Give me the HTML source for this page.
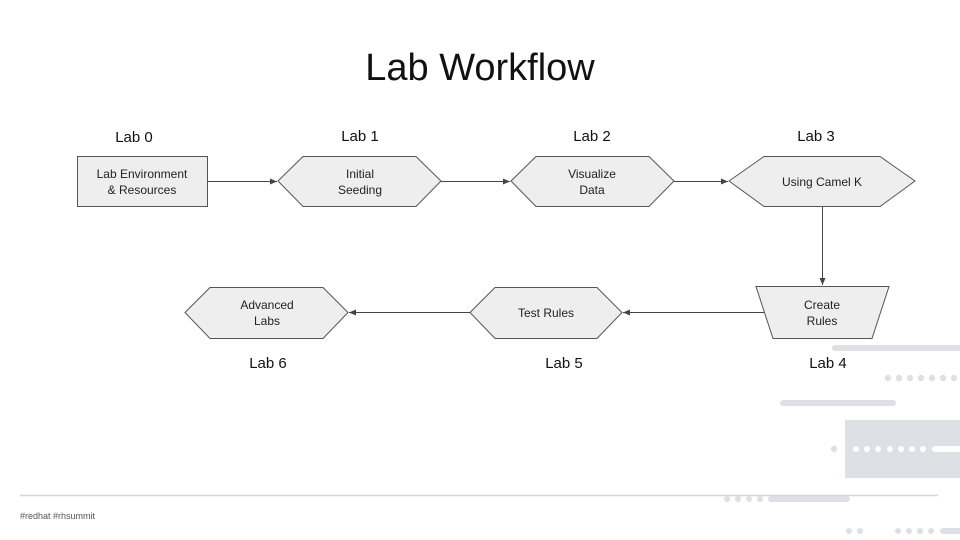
<!DOCTYPE html>
<html><head><meta charset="utf-8"><style>
html,body{margin:0;padding:0;background:#fff;width:960px;height:540px;overflow:hidden}
</style></head><body>
<svg width="960" height="540" viewBox="0 0 960 540" xmlns="http://www.w3.org/2000/svg" font-family="Liberation Sans, sans-serif">
<defs><marker id="a" markerWidth="8" markerHeight="8" refX="7" refY="4" orient="auto" markerUnits="userSpaceOnUse"><path d="M0,1 L7,4 L0,7 Z" fill="#444"/></marker></defs>
<!-- decorations -->
<g fill="#dde0e4">
<rect x="832" y="345" width="140" height="6" rx="3"/>
<g><circle cx="888" cy="378" r="3.2"/><circle cx="899" cy="378" r="3.2"/><circle cx="910" cy="378" r="3.2"/><circle cx="921" cy="378" r="3.2"/><circle cx="932" cy="378" r="3.2"/><circle cx="943" cy="378" r="3.2"/><circle cx="954" cy="378" r="3.2"/></g>
<rect x="780" y="400" width="116" height="6" rx="3"/>
<rect x="845" y="420" width="120" height="58"/>
<circle cx="834" cy="449" r="3.2"/>
<rect x="768" y="496" width="82" height="6" rx="3"/>
<circle cx="727" cy="499" r="3"/><circle cx="738" cy="499" r="3"/><circle cx="749" cy="499" r="3"/><circle cx="760" cy="499" r="3"/>
<circle cx="849" cy="531" r="3"/><circle cx="860" cy="531" r="3"/>
<circle cx="898" cy="531" r="3"/><circle cx="909" cy="531" r="3"/><circle cx="920" cy="531" r="3"/><circle cx="931" cy="531" r="3"/>
<rect x="940" y="528" width="30" height="6" rx="3"/>
</g>
<g fill="#fff"><circle cx="856" cy="449" r="3"/><circle cx="867" cy="449" r="3"/><circle cx="878" cy="449" r="3"/><circle cx="890" cy="449" r="3"/><circle cx="901" cy="449" r="3"/><circle cx="912" cy="449" r="3"/><circle cx="923" cy="449" r="3"/><rect x="932" y="446" width="40" height="6" rx="3"/></g>
<line x1="20" y1="495.5" x2="938" y2="495.5" stroke="#d6d6d6" stroke-width="1.5"/>
<text x="20" y="519" font-size="9" fill="#555">#redhat  #rhsummit</text>
<!-- title -->
<text x="480" y="80" font-size="38" text-anchor="middle" fill="#111">Lab Workflow</text>
<!-- lab labels -->
<g font-size="15" fill="#111" text-anchor="middle">
<text x="134" y="142">Lab 0</text><text x="360" y="141">Lab 1</text><text x="592" y="141">Lab 2</text><text x="816" y="141">Lab 3</text>
<text x="268" y="368">Lab 6</text><text x="564" y="368">Lab 5</text><text x="828" y="368">Lab 4</text>
</g>
<!-- shapes -->
<g fill="#eeeeee" stroke="#555" stroke-width="1">
<rect x="77.5" y="156.5" width="130" height="50"/>
<polygon points="278,181 303,156.5 416,156.5 441,181 416,206.5 303,206.5"/>
<polygon points="511,181 536,156.5 649,156.5 674,181 649,206.5 536,206.5"/>
<polygon points="729,181 764,156.5 880,156.5 915,181 880,206.5 764,206.5"/>
<polygon points="756,286.5 889,286.5 872,338.5 773,338.5"/>
<polygon points="470,312.5 495,287.5 597,287.5 622,312.5 597,338.5 495,338.5"/>
<polygon points="185,312.5 210,287.5 323,287.5 348,312.5 323,338.5 210,338.5"/>
</g>
<!-- connectors -->
<g stroke="#444" stroke-width="1" fill="none" marker-end="url(#a)">
<line x1="207" y1="181.5" x2="277" y2="181.5"/>
<line x1="441" y1="181.5" x2="510" y2="181.5"/>
<line x1="674" y1="181.5" x2="728" y2="181.5"/>
<line x1="822.5" y1="207" x2="822.5" y2="285"/>
<line x1="764" y1="312.5" x2="623" y2="312.5"/>
<line x1="470" y1="312.5" x2="349" y2="312.5"/>
</g>
<g font-size="12" fill="#222" text-anchor="middle">
<text x="142" y="178">Lab Environment</text><text x="142" y="194">&amp; Resources</text>
<text x="360" y="178">Initial</text><text x="360" y="194">Seeding</text>
<text x="592" y="178">Visualize</text><text x="592" y="194">Data</text>
<text x="822" y="186">Using Camel K</text>
<text x="822" y="309">Create</text><text x="822" y="325">Rules</text>
<text x="546" y="317">Test Rules</text>
<text x="267" y="309">Advanced</text><text x="267" y="325">Labs</text>
</g>
</svg>
</body></html>
